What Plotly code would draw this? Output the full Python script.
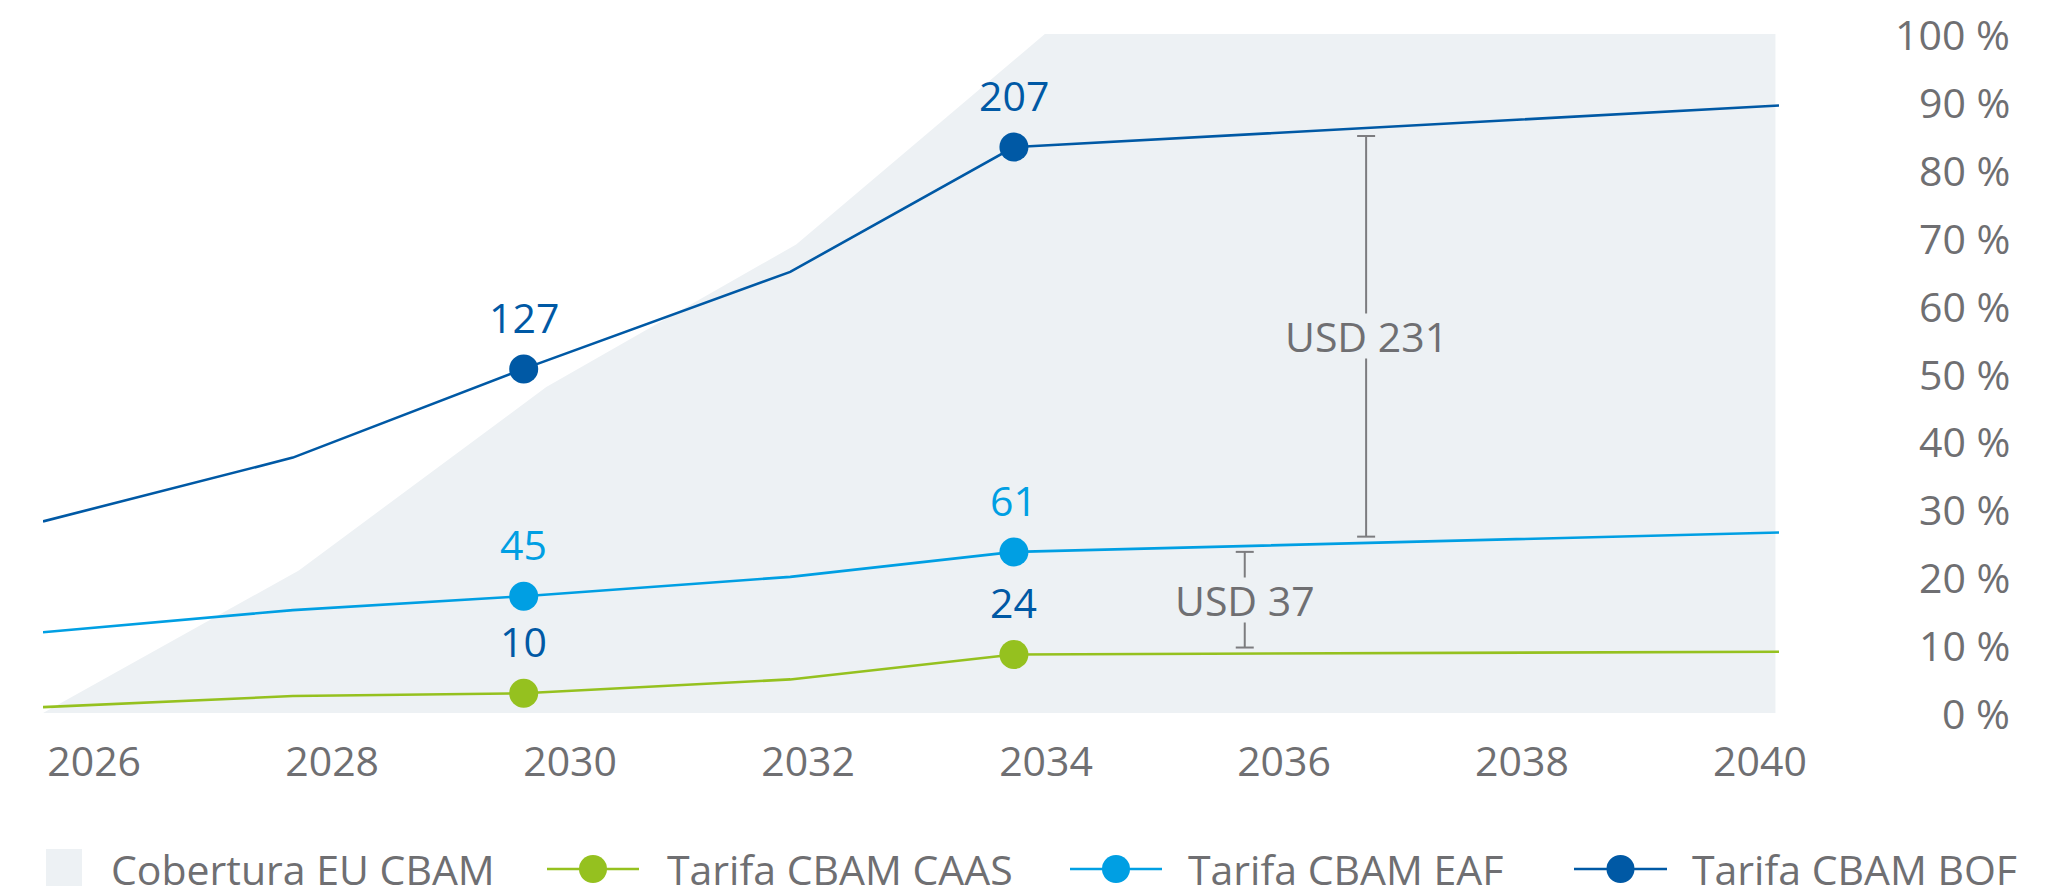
import plotly.graph_objects as go

# --- data -------------------------------------------------------------
# Share of imports covered by the EU CBAM (%)
coverage_years = [2025.57, 2027.72, 2029.80, 2031.90, 2033.99, 2040.13]
coverage_pct = [0, 21, 48, 69, 100, 100]

# CBAM tariff paths (USD per tonne)
tariff_years = [2025.57, 2027.67, 2029.61, 2031.85, 2033.73, 2040.16]
tariff_caas = [5, 9, 10, 15, 24, 25]
tariff_eaf = [32, 40, 45, 52, 61, 68]
tariff_bof = [72, 95, 127, 162, 207, 222]
labelled_points = [2, 4]

year_ticks = [2026, 2028, 2030, 2032, 2034, 2036, 2038, 2040]
pct_ticks = [0, 10, 20, 30, 40, 50, 60, 70, 80, 90, 100]

legend_names = ["Cobertura EU CBAM", "Tarifa CBAM CAAS", "Tarifa CBAM EAF", "Tarifa CBAM BOF"]

gap_labels = ["USD 231", "USD 37"]
gap_years = [2036.69, 2035.67]
gap_low = [66.5, 26.5]
gap_high = [211, 61]

# --- styling ----------------------------------------------------------
W, H = 2065, 896
M_L, M_R, M_T, M_B = 43, 286, 34, 183
PLOT_W = W - M_L - M_R
PLOT_H = H - M_T - M_B

AREA = "#edf1f4"
CAAS = "#95c11f"
EAF = "#009fe3"
BOF = "#0059a5"
TEXT = "#6f6f72"
BRACKET = "#7c7c7f"
FONT = "Open Sans"
FS = 41


def px_x(px):
    return (px - M_L) / PLOT_W


def px_y(py):
    return (H - M_B - py) / PLOT_H


fig = go.Figure()

fig.add_trace(go.Scatter(
    x=coverage_years, y=coverage_pct, mode="lines", fill="tozeroy",
    fillcolor=AREA, line=dict(width=0, color=AREA), yaxis="y",
    hoverinfo="skip", showlegend=False, name=legend_names[0],
))

series = [
    (legend_names[1], tariff_caas, CAAS, BOF),
    (legend_names[2], tariff_eaf, EAF, EAF),
    (legend_names[3], tariff_bof, BOF, BOF),
]

annotations = []
for name, vals, color, label_color in series:
    fig.add_trace(go.Scatter(
        x=tariff_years, y=vals, mode="lines", yaxis="y2",
        line=dict(color=color, width=2.6), showlegend=False, name=name,
    ))
    mx = [tariff_years[i] for i in labelled_points]
    my = [vals[i] for i in labelled_points]
    fig.add_trace(go.Scatter(
        x=mx, y=my, mode="markers", yaxis="y2",
        marker=dict(color=color, size=29), showlegend=False, name=name,
    ))
    for xv, yv in zip(mx, my):
        annotations.append(dict(
            x=xv, y=yv, xref="x", yref="y2", yshift=52, showarrow=False,
            text=f"{yv:g}", font=dict(family=FONT, size=FS, color=label_color),
            xanchor="center", yanchor="middle",
        ))

# right-hand percentage scale
for v in pct_ticks:
    annotations.append(dict(
        x=px_x(2012), y=v, xref="paper", yref="y", showarrow=False,
        text=f"{v} %", font=dict(family=FONT, size=FS, color=TEXT),
        xanchor="right", yanchor="middle",
    ))

shapes = []
# gap brackets between tariff paths
for lab, xv, lo, hi in zip(gap_labels, gap_years, gap_low, gap_high):
    shapes.append(dict(type="line", xref="x", yref="y2", x0=xv, x1=xv, y0=lo, y1=hi,
                       line=dict(color=BRACKET, width=2)))
    for yv in (lo, hi):
        shapes.append(dict(type="line", xref="x", yref="y2", xsizemode="pixel",
                           xanchor=xv, x0=-9, x1=9, y0=yv, y1=yv,
                           line=dict(color=BRACKET, width=2)))
    annotations.append(dict(
        x=xv, y=(lo + hi) / 2, xref="x", yref="y2", showarrow=False, text=lab,
        font=dict(family=FONT, size=FS, color=TEXT), bgcolor=AREA, borderpad=0,
        height=44, valign="middle", xanchor="center", yanchor="middle",
    ))

# legend row
LEG_Y = 869
shapes.append(dict(type="rect", xref="paper", yref="paper",
                   x0=px_x(46), x1=px_x(82), y0=px_y(LEG_Y + 17), y1=px_y(LEG_Y - 20),
                   fillcolor=AREA, line=dict(width=0)))
annotations.append(dict(x=px_x(109), y=px_y(LEG_Y), xref="paper", yref="paper",
                        showarrow=False, text=legend_names[0], xanchor="left",
                        yanchor="middle", font=dict(family=FONT, size=FS, color=TEXT)))
legend_items = [(547, 639, 665, CAAS, legend_names[1]),
                (1070, 1162, 1186, EAF, legend_names[2]),
                (1574, 1667, 1690, BOF, legend_names[3])]
for x0, x1, xt, color, name in legend_items:
    shapes.append(dict(type="line", xref="paper", yref="paper",
                       x0=px_x(x0), x1=px_x(x1), y0=px_y(LEG_Y), y1=px_y(LEG_Y),
                       line=dict(color=color, width=2.6)))
    shapes.append(dict(type="circle", xref="paper", yref="paper",
                       xsizemode="pixel", ysizemode="pixel",
                       xanchor=px_x((x0 + x1) / 2), yanchor=px_y(LEG_Y),
                       x0=-14, x1=14, y0=-14, y1=14,
                       fillcolor=color, line=dict(width=0)))
    annotations.append(dict(x=px_x(xt), y=px_y(LEG_Y), xref="paper", yref="paper",
                            showarrow=False, text=name, xanchor="left",
                            yanchor="middle", font=dict(family=FONT, size=FS, color=TEXT)))

fig.update_layout(
    width=W, height=H, autosize=False,
    margin=dict(l=M_L, r=M_R, t=M_T, b=M_B, pad=0),
    paper_bgcolor="white", plot_bgcolor="white",
    font=dict(family=FONT, size=FS, color=TEXT),
    showlegend=False,
    xaxis=dict(range=[2025.57, 2040.16], tickvals=year_ticks, ticks="",
               showgrid=False, zeroline=False, showline=False,
               tickfont=dict(family=FONT, size=FS, color=TEXT),
               ticklabelstandoff=21, fixedrange=True),
    yaxis=dict(range=[0, 100], showticklabels=False, showgrid=False,
               zeroline=False, showline=False, ticks="", fixedrange=True),
    yaxis2=dict(range=[2.886, 247.8], overlaying="y", visible=False,
                fixedrange=True),
    shapes=shapes,
    annotations=annotations,
)

fig.write_html("out.html")
